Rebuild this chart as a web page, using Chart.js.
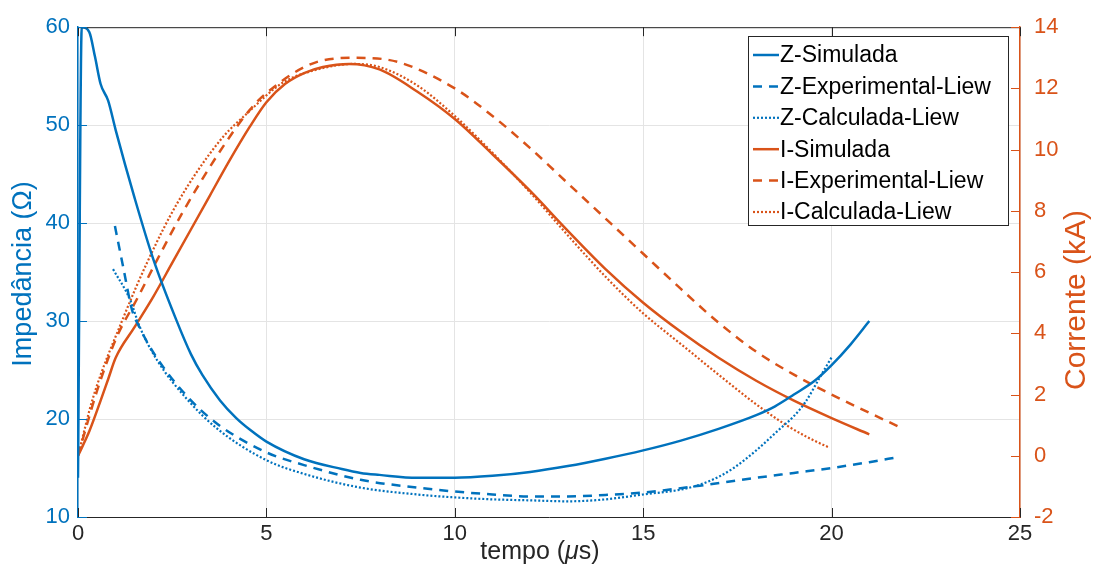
<!DOCTYPE html>
<html>
<head>
<meta charset="utf-8">
<script src="https://cdn.jsdelivr.net/npm/chart.js@4.4.1/dist/chart.umd.min.js"></script>
<style>
html,body{margin:0;padding:0;background:#fff;}
canvas{display:block;}
</style>
</head>
<body>
<canvas id="c" width="1096" height="585"></canvas>
<script>
// ---- data (time in µs) ----
const zSimT = [0, 0.1, 0.3, 0.45, 0.6, 0.8, 1.0, 1.5, 2.0, 2.6, 3.0, 3.3, 3.77, 4.2, 4.6, 5, 6, 7, 7.5, 8, 9, 10, 11, 12, 13, 14, 15, 16, 17, 18, 18.5, 19, 19.55, 20, 20.5, 21];
const zSimV = [14, 60, 59.5, 57, 54.2, 52.5, 49.5, 42.6, 36.3, 30.2, 26.6, 24.5, 21.9, 20.1, 18.8, 17.7, 15.9, 14.9, 14.5, 14.3, 14.0, 14.0, 14.2, 14.6, 15.2, 15.95, 16.8, 17.8, 19.0, 20.4, 21.3, 22.5, 23.9, 25.5, 27.6, 30];

const zExpT = [0.98, 1.2, 1.43, 1.64, 2.1, 2.9, 3.7, 5, 6, 7.5, 9, 10, 11, 12, 13, 14, 15, 16.5, 18, 19, 20, 21, 21.75];
const zExpV = [39.7, 35.5, 31.2, 29.3, 26.2, 22.3, 19.5, 16.6, 15.3, 13.8, 13.0, 12.6, 12.3, 12.1, 12.1, 12.25, 12.5, 13.2, 14.0, 14.5, 15.0, 15.6, 16.1];

const zCalT = [0.93, 1.38, 1.64, 2.1, 2.9, 3.7, 5, 6, 7.5, 9, 10, 11, 12, 13, 14, 15, 16, 16.5, 17, 17.4, 18, 18.6, 19, 19.3, 19.68, 20];
const zCalV = [35.3, 32.2, 29.4, 26.0, 22.0, 19.0, 15.8, 14.4, 13.0, 12.3, 12.0, 11.8, 11.7, 11.6, 11.8, 12.3, 12.8, 13.3, 14.1, 15.0, 16.8, 18.9, 20.3, 21.7, 24.2, 26.3];

const iSimT = [0, 0.3, 0.6, 0.8, 1.0, 1.5, 2.0, 2.5, 3.0, 3.5, 4.0, 4.56, 5.0, 5.5, 6.0, 6.5, 7.2, 8.0, 9, 10, 11, 12, 13, 14, 15, 16, 17, 18, 19, 20, 21];
const iSimV = [0, 0.8, 1.8, 2.5, 3.2, 4.2, 5.2, 6.3, 7.4, 8.5, 9.6, 10.75, 11.55, 12.15, 12.5, 12.7, 12.8, 12.62, 11.9, 11.0, 9.85, 8.65, 7.35, 6.1, 5.0, 4.05, 3.2, 2.45, 1.8, 1.23, 0.7];

const iExpT = [0, 0.5, 1.0, 1.6, 2.1, 2.8, 3.85, 4.56, 5, 6.33, 7.4, 8.5, 10, 11, 12, 13, 14, 15, 16, 17, 18, 19, 20, 20.75, 21.75];
const iExpV = [0, 2.1, 3.8, 5.2, 6.4, 8.0, 10.1, 11.3, 11.85, 12.86, 13.0, 12.86, 12.0, 11.1, 10.05, 8.9, 7.75, 6.6, 5.45, 4.35, 3.4, 2.65, 2.0, 1.55, 0.97];

const iCalT = [0, 0.4, 1.2, 1.83, 2.63, 3.77, 4.5, 5.45, 6.3, 7.3, 8, 9, 10, 11, 12, 13, 14, 15, 16, 17, 18, 18.8, 19.4, 19.95];
const iCalV = [0, 1.9, 4.5, 6.3, 8.24, 10.3, 11.2, 12.2, 12.6, 12.8, 12.7, 12.1, 11.1, 9.9, 8.6, 7.2, 5.85, 4.65, 3.65, 2.65, 1.68, 1.0, 0.58, 0.26];

const seriesNames = ['Z-Simulada', 'Z-Experimental-Liew', 'Z-Calculada-Liew', 'I-Simulada', 'I-Experimental-Liew', 'I-Calculada-Liew'];
const xTicks = [0, 5, 10, 15, 20, 25];
const yTicks = [10, 20, 30, 40, 50, 60];
const y1Ticks = [-2, 0, 2, 4, 6, 8, 10, 12, 14];

const BLUE = '#0072BD';
const ORANGE = '#D95319';
const FONT = '"Liberation Sans", Arial, Helvetica, sans-serif';

function pts(t, v) { return t.map((x, i) => ({x: x, y: v[i]})); }

const styles = [
  {c: BLUE, dash: [], w: 2.5, axis: 'y'},
  {c: BLUE, dash: [9, 7], w: 2.5, axis: 'y'},
  {c: BLUE, dash: [2, 2], w: 2.2, axis: 'y'},
  {c: ORANGE, dash: [], w: 2.5, axis: 'y1'},
  {c: ORANGE, dash: [9, 7], w: 2.5, axis: 'y1'},
  {c: ORANGE, dash: [2, 2], w: 2.2, axis: 'y1'}
];
const seriesData = [pts(zSimT, zSimV), pts(zExpT, zExpV), pts(zCalT, zCalV), pts(iSimT, iSimV), pts(iExpT, iExpV), pts(iCalT, iCalV)];

const datasets = seriesNames.map((n, i) => ({
  label: n,
  data: seriesData[i],
  yAxisID: styles[i].axis,
  borderColor: styles[i].c,
  backgroundColor: styles[i].c,
  borderDash: styles[i].dash,
  borderWidth: styles[i].w,
  pointRadius: 0,
  fill: false,
  cubicInterpolationMode: 'monotone'
}));

const decor = {
  id: 'decor',
  afterDraw(chart) {
    const {ctx, chartArea: ca, scales} = chart;
    ctx.save();
    ctx.strokeStyle = '#262626';
    ctx.lineWidth = 1;
    ctx.beginPath();
    ctx.moveTo(ca.left, ca.top + 0.5); ctx.lineTo(ca.right, ca.top + 0.5);
    ctx.stroke();
    const L = 9;
    xTicks.forEach(v => {
      const p = Math.round(scales.x.getPixelForValue(v)) + 0.5;
      ctx.beginPath();
      ctx.moveTo(p, ca.bottom); ctx.lineTo(p, ca.bottom - L);
      ctx.moveTo(p, ca.top); ctx.lineTo(p, ca.top + L);
      ctx.stroke();
    });
    ctx.strokeStyle = BLUE;
    yTicks.forEach(v => {
      const p = Math.round(scales.y.getPixelForValue(v)) + 0.5;
      ctx.beginPath(); ctx.moveTo(ca.left, p); ctx.lineTo(ca.left + L, p); ctx.stroke();
    });
    ctx.strokeStyle = ORANGE;
    y1Ticks.forEach(v => {
      const p = Math.round(scales.y1.getPixelForValue(v)) + 0.5;
      ctx.beginPath(); ctx.moveTo(ca.right, p); ctx.lineTo(ca.right - L, p); ctx.stroke();
    });

    // axis titles
    ctx.textAlign = 'center';
    ctx.textBaseline = 'middle';
    ctx.fillStyle = BLUE;
    ctx.font = '27px ' + FONT;
    ctx.save();
    ctx.translate(24, 274);
    ctx.rotate(-Math.PI / 2);
    ctx.fillText('Impedância (Ω)', 0, 0);
    ctx.restore();

    ctx.fillStyle = ORANGE;
    ctx.font = '30px ' + FONT;
    ctx.save();
    ctx.translate(1077, 300);
    ctx.rotate(-Math.PI / 2);
    ctx.fillText('Corrente (kA)', 0, 0);
    ctx.restore();

    // x title with italic mu
    ctx.fillStyle = '#262626';
    ctx.textAlign = 'left';
    const f1 = '25px ' + FONT, f2 = 'italic 25px ' + FONT;
    ctx.font = f1; const w1 = ctx.measureText('tempo (').width; const w3 = ctx.measureText('s)').width;
    ctx.font = f2; const w2 = ctx.measureText('μ').width;
    let x0 = 540 - (w1 + w2 + w3) / 2;
    const yT = 552;
    ctx.font = f1; ctx.fillText('tempo (', x0, yT);
    ctx.font = f2; ctx.fillText('μ', x0 + w1, yT);
    ctx.font = f1; ctx.fillText('s)', x0 + w1 + w2, yT);

    // legend
    const bx = 748.5, by = 36.5, bw = 260, bh = 189;
    ctx.fillStyle = '#fff';
    ctx.fillRect(bx, by, bw, bh);
    ctx.strokeStyle = '#262626';
    ctx.lineWidth = 1;
    ctx.setLineDash([]);
    ctx.strokeRect(bx, by, bw, bh);
    ctx.font = '23px ' + FONT;
    ctx.textBaseline = 'middle';
    ctx.textAlign = 'left';
    chart.data.datasets.forEach((ds, i) => {
      const yy = 55 + i * 31.4;
      ctx.strokeStyle = ds.borderColor;
      ctx.lineWidth = ds.borderWidth;
      ctx.setLineDash(ds.borderDash);
      ctx.beginPath(); ctx.moveTo(753, yy); ctx.lineTo(779, yy); ctx.stroke();
      ctx.setLineDash([]);
      ctx.fillStyle = '#000';
      ctx.fillText(ds.label, 780, yy + 1);
    });
    ctx.restore();
  }
};

new Chart(document.getElementById('c'), {
  type: 'line',
  data: {datasets: datasets},
  plugins: [decor],
  options: {
    responsive: false,
    animation: false,
    layout: {padding: {top: 22, right: 0, bottom: 0, left: 0}},
    plugins: {legend: {display: false}, tooltip: {enabled: false}},
    scales: {
      x: {
        type: 'linear', min: 0, max: 25,
        afterBuildTicks: s => { s.ticks = xTicks.map(v => ({value: v})); },
        afterFit: s => { s.height = 68; },
        ticks: {color: '#262626', font: {family: FONT, size: 22}, padding: 4, maxRotation: 0},
        grid: {color: '#e4e4e4', drawTicks: false, lineWidth: 1},
        border: {color: '#262626', width: 1}
      },
      y: {
        type: 'linear', position: 'left', min: 10, max: 60,
        afterBuildTicks: s => { s.ticks = yTicks.map(v => ({value: v})); },
        afterFit: s => { s.width = 78; },
        ticks: {color: BLUE, font: {family: FONT, size: 22}, padding: 8},
        grid: {color: '#e4e4e4', drawTicks: false, lineWidth: 1},
        border: {color: BLUE, width: 1.5}
      },
      y1: {
        type: 'linear', position: 'right', min: -2, max: 14,
        afterBuildTicks: s => { s.ticks = y1Ticks.map(v => ({value: v})); },
        afterFit: s => { s.width = 76; },
        ticks: {color: ORANGE, font: {family: FONT, size: 22}, padding: 14},
        grid: {drawOnChartArea: false, drawTicks: false},
        border: {color: ORANGE, width: 1.5}
      }
    }
  }
});
</script>
</body>
</html>
